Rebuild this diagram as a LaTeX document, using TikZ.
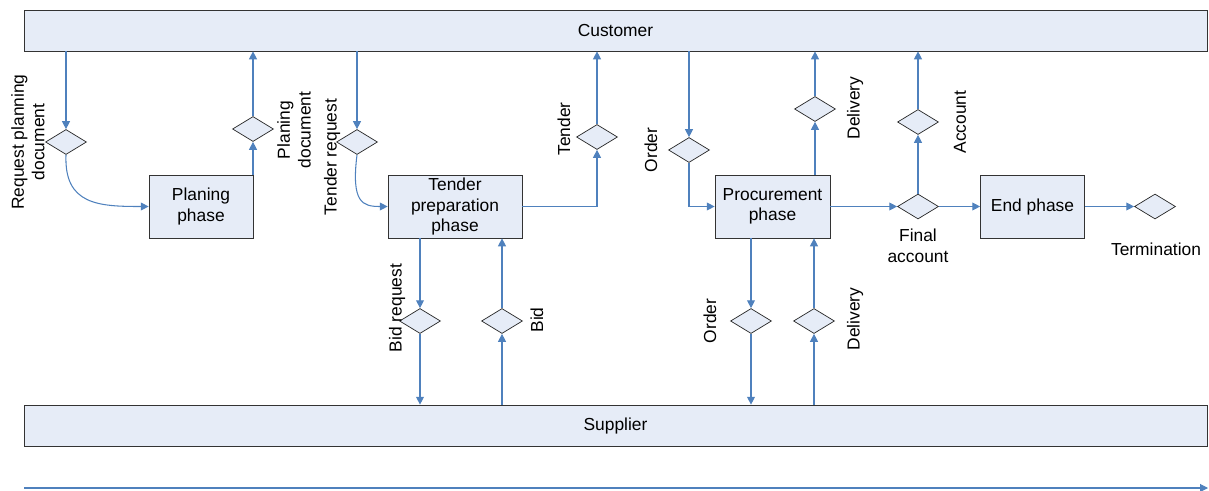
\documentclass[tikz,border=0pt]{standalone}
\usepackage{fontspec}
\setmainfont{Liberation Sans}
\usetikzlibrary{arrows.meta,shapes.geometric}
\definecolor{laneblue}{HTML}{E6ECF7}
\definecolor{flowblue}{HTML}{4F81BD}
\begin{document}
\begin{tikzpicture}[x=0.02cm, y=-0.02cm,
    every node/.style={font=\fontsize{9.9}{11.7}\selectfont},
    lane/.style={draw=black!80, fill=laneblue, minimum width=23.66cm,
      minimum height=0.82cm, inner sep=0},
    phase/.style={draw=black!80, fill=laneblue, minimum height=1.26cm,
      inner sep=0, align=center},
    decision/.style={diamond, draw=black!85, fill=laneblue,
      minimum width=0.82cm, minimum height=0.5cm, inner sep=0},
    flow/.style={draw=flowblue, line width=0.6pt,
      -{Triangle[width=4.5pt,length=4.5pt]}},
    lbl/.style={align=center, inner sep=0}]
    \useasboundingbox (0,0) rectangle (1209,490);

    % lanes and phases
    \node[lane] (cust) at (615.5,30.5) {Customer};
    \node[lane] (supp) at (615.5,425.5) {Supplier};
    \node[phase, minimum width=2.08cm] (plan) at (201,206.5) {Planing\\phase};
    \node[phase, minimum width=2.68cm] (tend) at (455,206.5) {Tender\\preparation\\phase};
    \node[phase, minimum width=2.30cm] (proc) at (772.5,206.5) {Procurement\\phase};
    \node[phase, minimum width=2.08cm] (endp) at (1032.5,206.5) {End phase};

    % decisions
    \node[decision] (d1) at (66,142) {};
    \node[decision] (d2) at (253,129) {};
    \node[decision] (d3) at (357,142) {};
    \node[decision] (d4) at (597,137) {};
    \node[decision] (d5) at (689,150) {};
    \node[decision] (d6) at (815,109) {};
    \node[decision] (d7) at (918,122) {};
    \node[decision] (d8) at (918,206.5) {};
    \node[decision] (d9) at (1155,206.5) {};
    \node[decision] (d10) at (420,321) {};
    \node[decision] (d11) at (502,321) {};
    \node[decision] (d12) at (751,321) {};
    \node[decision] (d13) at (814,321) {};

    % labels
    \node[lbl, rotate=90] (lreq) at (28,142) {Request planning\\document};
    \node[lbl, rotate=90] (lpdoc) at (294,130) {Planing\\document};
    \node[lbl, rotate=90] (ltreq) at (332,157) {Tender request};
    \node[lbl, rotate=90] (ltend) at (564,129) {Tender};
    \node[lbl, rotate=90] (lord1) at (651,150) {Order};
    \node[lbl, rotate=90] (ldel1) at (855,108) {Delivery};
    \node[lbl, rotate=90] (lacc) at (960,122) {Account};
    \node[lbl] (lfin) at (918,246) {Final\\account};
    \node[lbl] (lterm) at (1156,249) {Termination};
    \node[lbl, rotate=90] (lbreq) at (397,308) {Bid request};
    \node[lbl, rotate=90] (lbid) at (537,320) {Bid};
    \node[lbl, rotate=90] (lord2) at (710,321) {Order};
    \node[lbl, rotate=90] (ldel2) at (855,319) {Delivery};

    % customer side
    \draw[flow] (cust.south -| d1) -- (d1.north);
    \draw[flow] (d1.south) .. controls +(-2,50) and +(-50,0) .. (plan.west);
    \draw[flow] (plan.north -| d2) -- (d2.south);
    \draw[flow] (d2.north) -- (cust.south -| d2);
    \draw[flow] (cust.south -| d3) -- (d3.north);
    \draw[flow] (d3.south) .. controls +(-6,48) and +(-25,0) .. (tend.west);
    \draw[flow] (tend.east) -| (d4.south);
    \draw[flow] (d4.north) -- (cust.south -| d4);
    \draw[flow] (cust.south -| d5) -- (d5.north);
    \draw[flow] (d5.south) |- (proc.west);
    \draw[flow] (proc.north -| d6) -- (d6.south);
    \draw[flow] (d6.north) -- (cust.south -| d6);
    \draw[flow] (proc.east) -- (d8.west);
    \draw[flow] (d8.north) -- (d7.south);
    \draw[flow] (d7.north) -- (cust.south -| d7);
    \draw[flow] (d8.east) -- (endp.west);
    \draw[flow] (endp.east) -- (d9.west);

    % supplier side
    \draw[flow] (tend.south -| d10) -- (d10.north);
    \draw[flow] (d10.south) -- (supp.north -| d10);
    \draw[flow] (supp.north -| d11) -- (d11.south);
    \draw[flow] (d11.north) -- (tend.south -| d11);
    \draw[flow] (proc.south -| d12) -- (d12.north);
    \draw[flow] (d12.south) -- (supp.north -| d12);
    \draw[flow] (supp.north -| d13) -- (d13.south);
    \draw[flow] (d13.north) -- (proc.south -| d13);

    % time line
    \coordinate (t0) at (24,488);
    \coordinate (t1) at (1208,488);
    \draw[flow] (t0) -- (t1);
\end{tikzpicture}
\end{document}
